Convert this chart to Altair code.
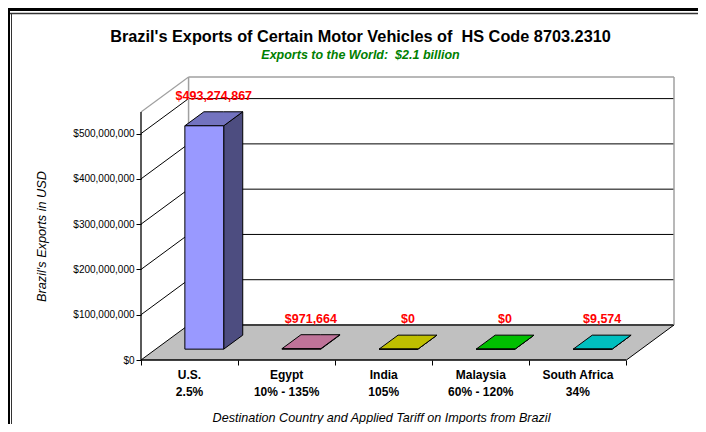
import altair as alt
import pandas as pd

# ---- data ----
categories = ["U.S.", "Egypt", "India", "Malaysia", "South Africa"]
tariffs = ["2.5%", "10% - 135%", "105%", "60% - 120%", "34%"]
exports = [493274867, 971664, 0, 0, 9574]
front_colors = ["#9999FF", "#FF99CC", "#FFFF00", "#00FF00", "#00FFFF"]
top_colors = ["#7373BF", "#BF7399", "#BFBF00", "#00BF00", "#00BFBF"]
side_colors = ["#4D4D80", "#804D66", "#808000", "#008000", "#008080"]
y_ticks = [0, 100000000, 200000000, 300000000, 400000000, 500000000]

TITLE = "Brazil's Exports of Certain Motor Vehicles of \u00a0HS Code 8703.2310"
SUBTITLE = "Exports to the World: \u00a0$2.1 billion"
X_TITLE = "Destination Country and Applied Tariff on Imports from Brazil"
Y_TITLE = "Brazil's Exports in USD"

# ---- 3D geometry parameters (in data units) ----
N = len(categories)
YMAX = 625e6
DX = 0.49        # depth offset, category units
DY = 77.3e6      # depth offset, value units
F0, F1 = 0.31, 0.71
BAR_L, BAR_R = 0.30, 0.70
XMAX = N + DX
FONT = "Liberation Sans"

xs = alt.Scale(domain=[0, XMAX], nice=False, zero=False)
ys = alt.Scale(domain=[0, YMAX], nice=False, zero=False)

x_axis = alt.Axis(values=list(range(N + 1)), labels=False, domain=False, grid=False,
                  tickSize=5, tickColor="black", tickWidth=1,
                  title=X_TITLE, titleFont=FONT, titleFontSize=12.6, titleFontStyle="italic",
                  titleFontWeight="normal", titleColor="black",
                  titleX=240, titleY=57, titleBaseline="middle", titleAlign="center")
y_axis = alt.Axis(values=y_ticks, format="$,.0f", domain=False, grid=False,
                  tickSize=5, tickColor="black", tickWidth=1,
                  labelFont=FONT, labelFontSize=10, labelColor="black", labelPadding=2,
                  title=Y_TITLE, titleFont=FONT, titleFontSize=12.7, titleFontStyle="italic",
                  titleFontWeight="normal", titleColor="black",
                  titleX=-100, titleY=159, titleAngle=-90, titleBaseline="middle",
                  titleAlign="center")

def X(f="x"):
    return alt.X(f"{f}:Q", scale=xs, axis=x_axis)

def Y(f="y"):
    return alt.Y(f"{f}:Q", scale=ys, axis=y_axis, stack=None)

# ---- floor ----
floor = pd.DataFrame({"x": [0, DX, N, N + DX], "y": [0, 0, 0, DY], "y2": [0, DY, DY, DY]})
floor_layer = alt.Chart(floor).mark_area(fill="#C0C0C0", strokeWidth=0).encode(
    x=X(), y=Y(), y2="y2:Q")

# ---- wall edges / gridlines ----
rules = []
for v in y_ticks[1:]:
    rules.append((DX, N + DX, v + DY, v + DY, "black", 1))
for v in y_ticks:
    rules.append((0, DX, v, v + DY, "black", 1))
rules += [
    (DX, N + DX, DY, DY, "#404040", 2),
    (0, DX, YMAX - DY, YMAX, "#A0A0A0", 1.2),
    (DX, DX, DY, YMAX, "#A0A0A0", 1.5),
    (DX, N + DX, YMAX, YMAX, "#A0A0A0", 1.5),
    (N + DX, N + DX, DY, YMAX, "#A0A0A0", 1.5),
    (N, N + DX, 0, DY, "black", 1),
    (0, 0, 0, YMAX - DY, "black", 1.3),
    (0, N, 0, 0, "black", 1.3),
]
rules_df = pd.DataFrame(rules, columns=["x", "x2", "y", "y2", "c", "w"])
rule_layer = alt.Chart(rules_df).mark_rule().encode(
    x=X(), x2="x2:Q", y=Y(), y2="y2:Q",
    color=alt.Color("c:N", scale=None),
    strokeWidth=alt.StrokeWidth("w:Q", scale=None))

# ---- bars ----
front_rows, face_rows = [], []
ddx, ddy = (F1 - F0) * DX, (F1 - F0) * DY
for i, v in enumerate(exports):
    xl = i + BAR_L + F0 * DX
    xr = i + BAR_R + F0 * DX
    b = F0 * DY
    t = v + F0 * DY
    front_rows.append({"x": xl, "x2": xr, "y": b, "y2": t, "fill": front_colors[i]})
    face_rows.append({"face": f"s{i}", "x": xr, "y": b, "y2": t, "fill": side_colors[i]})
    face_rows.append({"face": f"s{i}", "x": xr + ddx, "y": b + ddy, "y2": t + ddy, "fill": side_colors[i]})
    face_rows.append({"face": f"t{i}", "x": xl, "y": t, "y2": t, "fill": top_colors[i]})
    face_rows.append({"face": f"t{i}", "x": xl + ddx, "y": t, "y2": t + ddy, "fill": top_colors[i]})
    face_rows.append({"face": f"t{i}", "x": xr, "y": t, "y2": t + ddy, "fill": top_colors[i]})
    face_rows.append({"face": f"t{i}", "x": xr + ddx, "y": t + ddy, "y2": t + ddy, "fill": top_colors[i]})

faces_layer = alt.Chart(pd.DataFrame(face_rows)).mark_area(
    stroke="black", strokeWidth=1, strokeJoin="round").encode(
    x=X(), y=Y(), y2="y2:Q",
    fill=alt.Fill("fill:N", scale=None), detail="face:N")
front_layer = alt.Chart(pd.DataFrame(front_rows)).mark_rect(
    stroke="black", strokeWidth=1).encode(
    x=X(), x2="x2:Q", y=Y(), y2="y2:Q", fill=alt.Fill("fill:N", scale=None))

# ---- value labels ----
lab = pd.DataFrame({"x": [i + 0.5 + 0.51 * DX for i in range(N)],
                    "y": [v + 0.51 * DY for v in exports],
                    "v": exports})
label_layer = alt.Chart(lab).mark_text(
    font=FONT, fontSize=12.5, fontWeight="bold", color="#FF0000",
    baseline="middle", align="center", dy=-23).encode(
    x=X(), y=Y(), text=alt.Text("v:Q", format="$,.0f"))

# ---- category labels ----
cat = pd.DataFrame({"x": [i + 0.5 for i in range(N)], "y": [0] * N,
                    "t": [f"{c}\n{p}" for c, p in zip(categories, tariffs)]})
cat_layer = alt.Chart(cat).mark_text(
    font=FONT, fontSize=12, fontWeight="bold", color="black", lineBreak="\n",
    lineHeight=17, baseline="top", align="center", dy=10).encode(
    x=X(), y=Y(), text="t:N")

# ---- titles and outer frame (decoration positioned relative to the plot) ----
one = pd.DataFrame({"k": [0]})
title_layers = [
    alt.Chart(one).mark_text(text=TITLE, font=FONT, fontSize=16.3, fontWeight="bold",
                             color="black", align="center", baseline="alphabetic").encode(
        x=alt.value(219.5), y=alt.value(-35)),
    alt.Chart(one).mark_text(text=SUBTITLE, font=FONT, fontSize=12.5, fontWeight="bold",
                             fontStyle="italic", color="#008000", align="center",
                             baseline="alphabetic").encode(
        x=alt.value(219.5), y=alt.value(-18)),
]
frame = [
    alt.Chart(one).mark_rule(color="black", strokeWidth=4).encode(
        x=alt.value(-133), x2=alt.value(557), y=alt.value(-68)),
    alt.Chart(one).mark_rule(color="#333333", strokeWidth=1.5).encode(
        x=alt.value(-131), x2=alt.value(557), y=alt.value(-63.5)),
    alt.Chart(one).mark_rule(color="black", strokeWidth=3).encode(
        x=alt.value(-132.5), y=alt.value(-69), y2=alt.value(347)),
    alt.Chart(one).mark_rule(color="#333333", strokeWidth=1).encode(
        x=alt.value(-129.5), y=alt.value(-63.5), y2=alt.value(347)),
]

chart = alt.layer(floor_layer, rule_layer, faces_layer, front_layer,
                  label_layer, cat_layer, *title_layers, *frame).properties(
    width=533, height=283,
    autosize=alt.AutoSizeParams(type="none"),
    padding={"left": 133, "top": 69, "right": 24, "bottom": 64},
    background="white",
).configure_view(stroke=None)

chart.save("out.html", embed_options={"renderer": "svg", "actions": False})
